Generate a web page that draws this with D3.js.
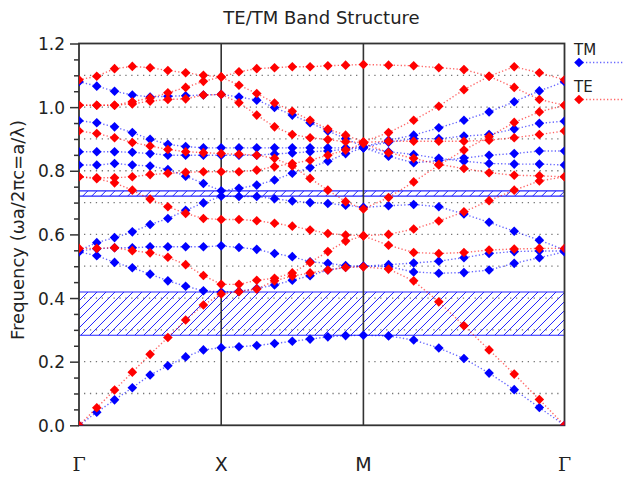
<!DOCTYPE html>
<html>
<head>
<meta charset="utf-8">
<script src="https://cdn.jsdelivr.net/npm/d3@7"></script>
<style>
  body { margin: 0; background: #fff; }
  text { font-family: "DejaVu Sans", sans-serif; fill: #222; }
</style>
</head>
<body>
<div id="chart"></div>
<script>
// k path
var kLabels = ["\u0393", "X", "M", "\u0393"];
var kNodes = [0, 1, 2, 2 + Math.SQRT2];
var stepsPerSegment = 8;

// TM bands (blue), 25 k-points each
var tm1 = [0, 0.041, 0.080, 0.118, 0.158, 0.187, 0.215, 0.237, 0.244, 0.247, 0.251, 0.257, 0.264, 0.271, 0.278, 0.282, 0.283, 0.281, 0.268, 0.243, 0.210, 0.164, 0.112, 0.056, 0];
var tm2 = [0.545, 0.533, 0.512, 0.495, 0.475, 0.454, 0.437, 0.423, 0.419, 0.421, 0.430, 0.441, 0.456, 0.470, 0.488, 0.497, 0.500, 0.499, 0.482, 0.478, 0.480, 0.488, 0.509, 0.527, 0.545];
var tm3 = [0.548, 0.555, 0.558, 0.558, 0.561, 0.561, 0.561, 0.561, 0.564, 0.559, 0.553, 0.540, 0.530, 0.514, 0.509, 0.502, 0.500, 0.505, 0.510, 0.516, 0.527, 0.540, 0.546, 0.548, 0.548];
var tm4 = [0.550, 0.574, 0.590, 0.608, 0.631, 0.650, 0.676, 0.699, 0.720, 0.719, 0.719, 0.712, 0.705, 0.700, 0.697, 0.692, 0.685, 0.690, 0.694, 0.687, 0.664, 0.638, 0.610, 0.582, 0.551];
var tm5 = [0.818, 0.818, 0.823, 0.818, 0.815, 0.804, 0.783, 0.760, 0.737, 0.745, 0.755, 0.771, 0.792, 0.810, 0.830, 0.854, 0.872, 0.846, 0.825, 0.832, 0.840, 0.849, 0.854, 0.862, 0.862];
var tm6 = [0.860, 0.860, 0.860, 0.858, 0.854, 0.849, 0.849, 0.849, 0.849, 0.849, 0.849, 0.853, 0.856, 0.860, 0.862, 0.868, 0.872, 0.860, 0.851, 0.839, 0.830, 0.823, 0.821, 0.821, 0.818];
var tm7 = [0.957, 0.951, 0.938, 0.920, 0.899, 0.883, 0.876, 0.872, 0.872, 0.872, 0.872, 0.872, 0.872, 0.872, 0.872, 0.872, 0.874, 0.890, 0.901, 0.901, 0.909, 0.914, 0.931, 0.949, 0.956];
var tm8 = [1.080, 1.066, 1.050, 1.038, 1.032, 1.034, 1.036, 1.038, 1.040, 1.032, 1.022, 0.999, 0.975, 0.951, 0.925, 0.901, 0.875, 0.896, 0.912, 0.935, 0.959, 0.985, 1.017, 1.051, 1.080];

// TE bands (red)
var te1 = [0, 0.055, 0.111, 0.167, 0.223, 0.276, 0.331, 0.378, 0.413, 0.420, 0.428, 0.454, 0.469, 0.479, 0.488, 0.496, 0.498, 0.491, 0.454, 0.388, 0.313, 0.237, 0.161, 0.081, 0];
var te2 = [0.556, 0.556, 0.558, 0.549, 0.542, 0.528, 0.505, 0.471, 0.443, 0.443, 0.456, 0.462, 0.479, 0.512, 0.546, 0.579, 0.595, 0.566, 0.543, 0.540, 0.543, 0.551, 0.554, 0.556, 0.556];
var te3 = [0.781, 0.775, 0.762, 0.739, 0.711, 0.687, 0.666, 0.650, 0.647, 0.647, 0.643, 0.635, 0.626, 0.614, 0.603, 0.598, 0.596, 0.600, 0.617, 0.642, 0.671, 0.706, 0.739, 0.768, 0.781];
var te4 = [0.781, 0.778, 0.778, 0.781, 0.788, 0.792, 0.795, 0.797, 0.797, 0.797, 0.802, 0.813, 0.823, 0.833, 0.849, 0.865, 0.886, 0.857, 0.839, 0.820, 0.807, 0.794, 0.786, 0.784, 0.781];
var te5 = [0.925, 0.917, 0.904, 0.889, 0.878, 0.867, 0.860, 0.857, 0.854, 0.852, 0.849, 0.839, 0.815, 0.776, 0.739, 0.703, 0.680, 0.716, 0.765, 0.818, 0.865, 0.907, 0.952, 0.985, 1.006];
var te6 = [1.006, 1.006, 1.006, 1.010, 1.019, 1.024, 1.026, 1.038, 1.040, 1.014, 0.975, 0.938, 0.914, 0.904, 0.898, 0.891, 0.889, 0.893, 0.893, 0.893, 0.893, 0.896, 0.904, 0.914, 0.925];
var te7 = [1.006, 1.006, 1.006, 1.017, 1.029, 1.045, 1.062, 1.081, 1.095, 1.069, 1.043, 1.013, 0.987, 0.959, 0.931, 0.912, 0.891, 0.920, 0.959, 1.003, 1.055, 1.097, 1.127, 1.108, 1.086];
var te8 = [1.086, 1.097, 1.121, 1.128, 1.124, 1.115, 1.108, 1.100, 1.095, 1.111, 1.121, 1.124, 1.127, 1.127, 1.130, 1.132, 1.134, 1.132, 1.130, 1.124, 1.118, 1.097, 1.062, 1.024, 1.006];

var tmBands = [tm1, tm2, tm3, tm4, tm5, tm6, tm7, tm8];
var teBands = [te1, te2, te3, te4, te5, te6, te7, te8];

var yTicks = [0, 0.2, 0.4, 0.6, 0.8, 1.0, 1.2];
var gridValues = [0.1, 0.2, 0.3, 0.4, 0.5, 0.6, 0.7, 0.8, 0.9, 1.0, 1.1];

var tmColor = "#0000ff";
var teColor = "#ff0000";
var gapColor = "#2222ff";

// k coordinate of every point along the path
var kPoints = [];
for (var s = 0; s < kNodes.length - 1; s++) {
  for (var i = 0; i < stepsPerSegment; i++) {
    kPoints.push(kNodes[s] + (kNodes[s + 1] - kNodes[s]) * i / stepsPerSegment);
  }
}
kPoints.push(kNodes[kNodes.length - 1]);

// TM gaps: between band 1 and 2, band 4 and 5
var gaps = [
  [d3.max(tm1), d3.min(tm2)],
  [d3.max(tm4), d3.min(tm5)]
];

var width = 623, height = 477;
var svg = d3.select("#chart").append("svg")
  .attr("width", width).attr("height", height);

var x = d3.scaleLinear().domain([0, kNodes[3]]).range([79, 564.5]);
var y = d3.scaleLinear().domain([0, 1.2]).range([425.3, 43.5]);

var defs = svg.append("defs");
defs.append("clipPath").attr("id", "plotclip")
  .append("rect")
  .attr("x", x(0)).attr("y", y(1.2))
  .attr("width", x(kNodes[3]) - x(0)).attr("height", y(0) - y(1.2));

// title
svg.append("text")
  .attr("x", 321.5).attr("y", 24)
  .attr("text-anchor", "middle")
  .style("font-size", "18px")
  .text("TE/TM Band Structure");

// dotted grid, broken around the symmetry lines
var gridSegs = [];
gridValues.forEach(function(v) {
  for (var s = 0; s < kNodes.length - 1; s++) {
    gridSegs.push({ v: v, k0: kNodes[s], k1: kNodes[s + 1] });
  }
});
svg.append("g").selectAll("line")
  .data(gridSegs)
  .join("line")
  .attr("x1", d => x(d.k0) + 5).attr("x2", d => x(d.k1) - 5)
  .attr("y1", d => y(d.v)).attr("y2", d => y(d.v))
  .attr("stroke", "#777")
  .attr("stroke-width", 1.3)
  .attr("stroke-dasharray", "1.3,4.6");

// band gaps, hatched
var x0 = x(0), x1 = x(kNodes[3]);
gaps.forEach(function(g, gi) {
  var top = y(g[1]), bot = y(g[0]), h = bot - top;
  defs.append("clipPath").attr("id", "gapclip" + gi)
    .append("rect")
    .attr("x", x0).attr("y", top)
    .attr("width", x1 - x0).attr("height", h);
  var gg = svg.append("g");
  gg.append("g").attr("clip-path", "url(#gapclip" + gi + ")")
    .selectAll("line")
    .data(d3.range(x0 - h, x1 + 9, 9))
    .join("line")
    .attr("x1", d => d).attr("y1", bot)
    .attr("x2", d => d + h).attr("y2", top)
    .attr("stroke", gapColor).attr("stroke-width", 1);
  gg.selectAll("line.edge")
    .data(g)
    .join("line")
    .attr("class", "edge")
    .attr("x1", x0).attr("x2", x1)
    .attr("y1", d => y(d)).attr("y2", d => y(d))
    .attr("stroke", gapColor).attr("stroke-width", 1.2);
});

// high symmetry lines
svg.append("g").selectAll("line")
  .data(kNodes.slice(1, 3))
  .join("line")
  .attr("x1", d => x(d)).attr("x2", d => x(d))
  .attr("y1", y(0)).attr("y2", y(1.2))
  .attr("stroke", "#333").attr("stroke-width", 1.6);

// frame
svg.append("rect")
  .attr("x", x0).attr("y", y(1.2))
  .attr("width", x1 - x0).attr("height", y(0) - y(1.2))
  .attr("fill", "none").attr("stroke", "#333").attr("stroke-width", 1.8);

// y axis
var yAxis = d3.axisLeft(y).tickValues(yTicks).tickSize(9).tickFormat(d3.format(".1f"));
var yAxisG = svg.append("g").attr("transform", "translate(" + x0 + ",0)").call(yAxis);
yAxisG.select(".domain").remove();
yAxisG.selectAll(".tick line").attr("stroke", "#333").attr("stroke-width", 1.5);
yAxisG.selectAll(".tick text")
  .attr("x", -14).attr("dy", "0.36em")
  .style("font-family", "DejaVu Sans").style("font-size", "17px").attr("fill", "#222");

var minorTicks = d3.range(0, 1.2001, 0.05).filter(d => Math.abs(d * 5 - Math.round(d * 5)) > 1e-6);
var yMinor = d3.axisLeft(y).tickValues(minorTicks).tickSize(5).tickFormat("");
var yMinorG = svg.append("g").attr("transform", "translate(" + x0 + ",0)").call(yMinor);
yMinorG.select(".domain").remove();
yMinorG.selectAll(".tick line").attr("stroke", "#333").attr("stroke-width", 1.5);

svg.append("text")
  .attr("transform", "translate(24," + 230 + ") rotate(-90)")
  .attr("text-anchor", "middle")
  .style("font-size", "18px")
  .text("Frequency (\u03c9a/2\u03c0c=a/\u03bb)");

// k labels
svg.append("g").selectAll("text")
  .data(kNodes)
  .join("text")
  .attr("x", d => x(d)).attr("y", 471)
  .attr("text-anchor", "middle")
  .style("font-size", "19px")
  .style("font-family", (d, i) => kLabels[i] === "\u0393" ? "DejaVu Serif" : "DejaVu Sans")
  .text((d, i) => kLabels[i]);

// bands
var line = d3.line().x((d, i) => x(kPoints[i])).y(d => y(d));
var diamond = "M0,-4.8L4.8,0L0,4.8L-4.8,0Z";

function drawBands(bands, color) {
  var g = svg.append("g").attr("clip-path", "url(#plotclip)");
  g.selectAll("path.band")
    .data(bands)
    .join("path")
    .attr("class", "band")
    .attr("d", line)
    .attr("fill", "none")
    .attr("stroke", color)
    .attr("stroke-opacity", 0.6)
    .attr("stroke-width", 1.4)
    .attr("stroke-dasharray", "1.3,2.2");
  bands.forEach(function(b) {
    g.selectAll(null)
      .data(b)
      .enter().append("path")
      .attr("d", diamond)
      .attr("transform", (d, i) => "translate(" + x(kPoints[i]) + "," + y(d) + ")")
      .attr("fill", color);
  });
}

drawBands(tmBands, tmColor);
drawBands(teBands, teColor);

// legend
var legend = [
  { name: "TM", color: tmColor, ty: 55, my: 62.5 },
  { name: "TE", color: teColor, ty: 92, my: 99.5 }
];
var lg = svg.append("g");
legend.forEach(function(l) {
  lg.append("text").attr("x", 574).attr("y", l.ty)
    .style("font-size", "15px").text(l.name);
  lg.append("line")
    .attr("x1", 579).attr("x2", 623).attr("y1", l.my).attr("y2", l.my)
    .attr("stroke", l.color).attr("stroke-opacity", 0.6)
    .attr("stroke-width", 1.4).attr("stroke-dasharray", "1.3,2.2");
  lg.append("path").attr("d", diamond)
    .attr("transform", "translate(579," + l.my + ")")
    .attr("fill", l.color);
});
</script>
</body>
</html>
